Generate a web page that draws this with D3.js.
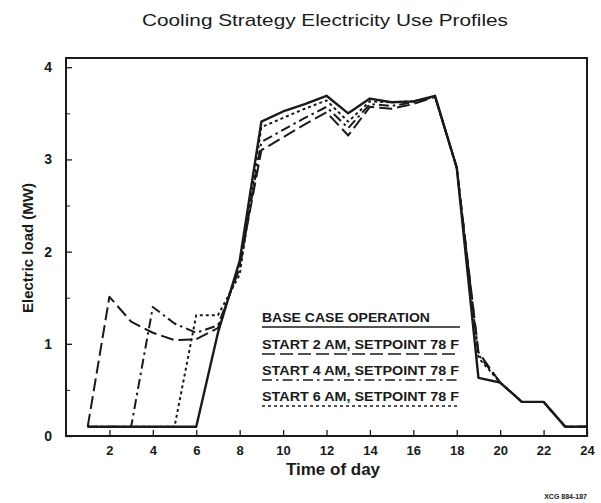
<!DOCTYPE html>
<html><head><meta charset="utf-8">
<script src="https://cdn.jsdelivr.net/npm/d3@7"></script>
<style>body{margin:0;background:#fff}svg{display:block}</style>
</head><body>
<script>
const hours = [1,2,3,4,5,6,7,8,9,10,11,12,13,14,15,16,17,18,19,20,21,22,23,24];
const baseCase = [0.1,0.1,0.1,0.1,0.1,0.1,1.12,1.9,3.41,3.52,3.6,3.69,3.5,3.66,3.62,3.63,3.69,2.91,0.63,0.58,0.37,0.37,0.1,0.1];
const start2am = [0.1,1.51,1.24,1.12,1.04,1.05,1.17,1.85,3.10,3.24,3.38,3.51,3.26,3.57,3.55,3.6,3.68,2.91,0.91,0.58,0.37,0.37,0.1,0.1];
const start4am = [0.1,0.1,0.1,1.40,1.22,1.12,1.2,1.82,3.19,3.32,3.45,3.57,3.34,3.6,3.58,3.62,3.68,2.91,0.88,0.58,0.37,0.37,0.1,0.1];
const start6am = [0.1,0.1,0.1,0.1,0.1,1.31,1.31,1.75,3.35,3.45,3.55,3.64,3.41,3.63,3.62,3.63,3.68,2.91,0.85,0.58,0.37,0.37,0.1,0.1];
const seriesNames = ["BASE CASE OPERATION","START 2 AM, SETPOINT 78 F","START 4 AM, SETPOINT 78 F","START 6 AM, SETPOINT 78 F"];
const xTicks = [2,4,6,8,10,12,14,16,18,20,22,24];
const xTickLabels = ["2","4","6","8","10","12","14","16","18","20","22","24"];
const yTicks = [0,1,2,3,4];
const yMinorTicks = [0.5,1.5,2.5,3.5];

const W = 601, H = 503;
const m = {left:66, right:14, top:58, bottom:67};
const svg = d3.select("body").append("svg").attr("width",W).attr("height",H);
const x = d3.scaleLinear().domain([0,24]).range([m.left, W-m.right]);
const y = d3.scaleLinear().domain([0,4.1]).range([H-m.bottom, m.top]);
const ink = "#1a1a1a";

// title
svg.append("text").attr("x",325).attr("y",26).attr("text-anchor","middle")
  .attr("font-family","Liberation Sans, Arial, sans-serif").attr("font-size",17)
  .attr("fill",ink).attr("textLength",366).attr("lengthAdjust","spacingAndGlyphs")
  .text("Cooling Strategy Electricity Use Profiles");

// frame
svg.append("rect").attr("x",x(0)).attr("y",y(4.1)).attr("width",x(24)-x(0)).attr("height",y(0)-y(4.1))
  .attr("fill","none").attr("stroke",ink).attr("stroke-width",2);

// axes
const xAxis = d3.axisBottom(x).tickValues(xTicks).tickSize(-6).tickPadding(10)
  .tickFormat((d,i)=>xTickLabels[i]);
const gx = svg.append("g").attr("transform",`translate(0,${y(0)})`).call(xAxis);
gx.select(".domain").remove();
gx.selectAll("line").attr("stroke",ink).attr("stroke-width",1.3);
gx.selectAll("text").attr("font-family","Liberation Sans, Arial, sans-serif").attr("font-weight","bold")
  .attr("font-size",13).attr("fill",ink);

const yAxis = d3.axisLeft(y).tickValues(yTicks).tickSize(-6).tickPadding(14).tickFormat(d3.format("d"));
const gy = svg.append("g").attr("transform",`translate(${x(0)},0)`).call(yAxis);
gy.select(".domain").remove();
gy.selectAll("line").attr("stroke",ink).attr("stroke-width",1.3);
gy.selectAll("text").attr("font-family","Liberation Sans, Arial, sans-serif").attr("font-weight","bold")
  .attr("font-size",14).attr("fill",ink);
const gy2 = svg.append("g").attr("transform",`translate(${x(0)},0)`)
  .call(d3.axisLeft(y).tickValues(yMinorTicks).tickSize(-4).tickFormat(""));
gy2.select(".domain").remove();
gy2.selectAll("line").attr("stroke",ink).attr("stroke-width",1);

// axis titles
svg.append("text").attr("x",333).attr("y",475).attr("text-anchor","middle")
  .attr("font-family","Liberation Sans, Arial, sans-serif").attr("font-weight","bold").attr("font-size",17)
  .attr("fill",ink).text("Time of day");
svg.append("text").attr("transform","translate(33,248) rotate(-90)").attr("text-anchor","middle")
  .attr("font-family","Liberation Sans, Arial, sans-serif").attr("font-weight","bold").attr("font-size",15)
  .attr("fill",ink).text("Electric load (MW)");

// lines
const styles = [
  {data:baseCase, dash:null, w:2.4},
  {data:start2am, dash:"13,5", w:2},
  {data:start4am, dash:"10,4,2.5,4", w:2},
  {data:start6am, dash:"3,3", w:2}
];
const line = d3.line().x((d,i)=>x(hours[i])).y(d=>y(d));
[1,2,3,0].forEach(k=>{
  const s = styles[k];
  svg.append("path").attr("d",line(s.data)).attr("fill","none").attr("stroke",ink)
    .attr("stroke-width",s.w).attr("stroke-linejoin","round")
    .attr("stroke-dasharray",s.dash);
});

// legend
const lx0 = 262, lx1 = 460;
const ly = [322, 349, 375, 401];
seriesNames.forEach((n,i)=>{
  svg.append("text").attr("x",lx0).attr("y",ly[i])
    .attr("font-family","Liberation Sans Narrow, Liberation Sans, Arial, sans-serif").attr("font-weight","bold")
    .attr("font-size",12).attr("fill",ink).attr("textLength",i===0?168:197).attr("lengthAdjust","spacingAndGlyphs")
    .text(n);
  svg.append("line").attr("x1",lx0).attr("x2",lx1).attr("y1",ly[i]+5).attr("y2",ly[i]+5)
    .attr("stroke",ink).attr("stroke-width",1.6).attr("stroke-dasharray",styles[i].dash);
});

// footnote
svg.append("text").attr("x",587).attr("y",499).attr("text-anchor","end")
  .attr("font-family","Liberation Sans, Arial, sans-serif").attr("font-weight","bold").attr("font-size",7)
  .attr("fill",ink).text("XCG 884-187");
</script>
</body></html>
